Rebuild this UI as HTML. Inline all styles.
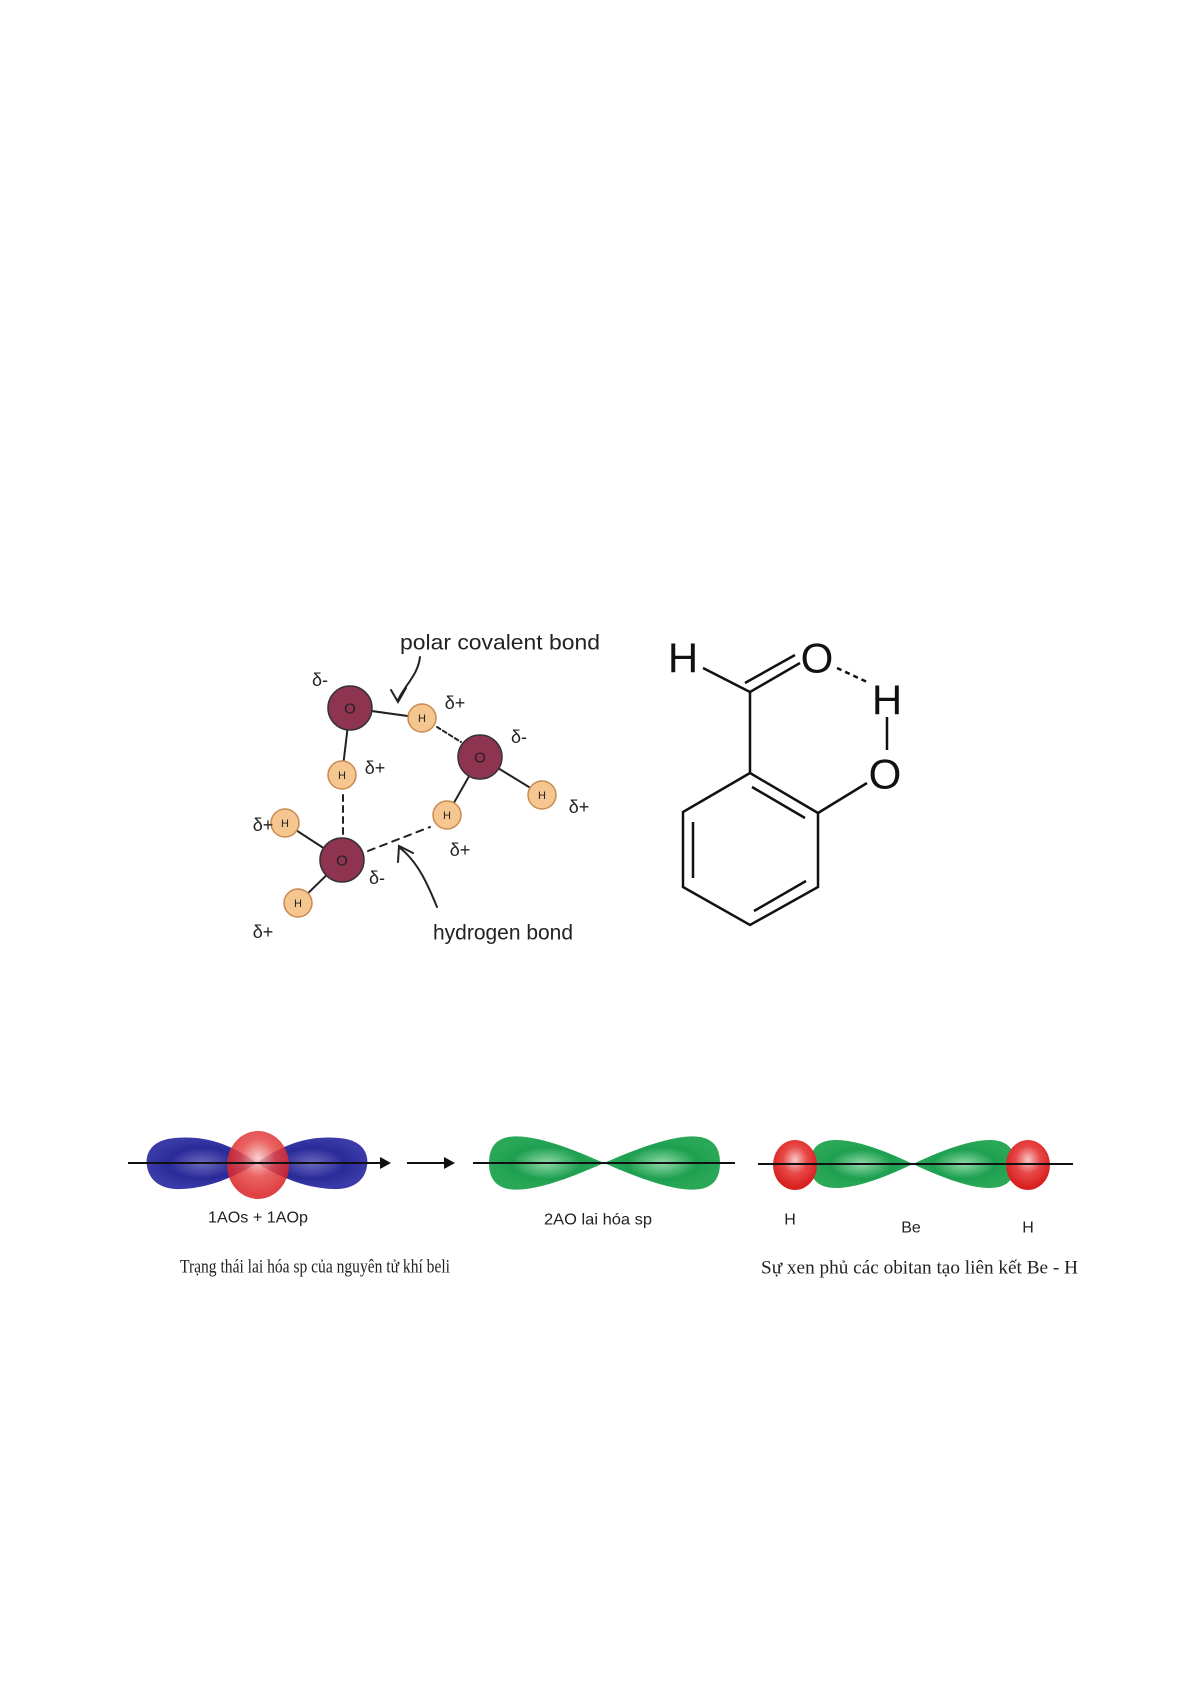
<!DOCTYPE html>
<html><head><meta charset="utf-8"><style>
html,body{margin:0;padding:0;background:#fff;}
body{width:1192px;height:1685px;position:relative;overflow:hidden;}
svg{position:absolute;left:0;top:0;}
</style></head><body>
<svg width="1192" height="1685" viewBox="0 0 1192 1685" xmlns="http://www.w3.org/2000/svg">
<defs>
<radialGradient id="bl" cx="50%" cy="50%" r="50%"><stop offset="0" stop-color="#6a6ac0"/><stop offset="0.6" stop-color="#2a2a98"/><stop offset="1" stop-color="#3a3aa8"/></radialGradient>
<radialGradient id="rd" cx="50%" cy="40%" r="55%"><stop offset="0" stop-color="#f7c8c8"/><stop offset="0.5" stop-color="#e84848"/><stop offset="1" stop-color="#d82020"/></radialGradient>
<radialGradient id="gr" cx="50%" cy="50%" r="50%"><stop offset="0" stop-color="#8fd8a8"/><stop offset="0.6" stop-color="#1ea050"/><stop offset="1" stop-color="#2aa858"/></radialGradient>
</defs>

<!-- WATER DIAGRAM -->
<g stroke="#222" stroke-width="2" fill="none" stroke-linecap="round">
<line x1="350" y1="708" x2="422" y2="718"/>
<line x1="350" y1="708" x2="342" y2="775"/>
<line x1="480" y1="757" x2="542" y2="795"/>
<line x1="480" y1="757" x2="447" y2="815"/>
<line x1="342" y1="860" x2="285" y2="823"/>
<line x1="342" y1="860" x2="298" y2="903"/>
<line x1="437" y1="727" x2="461" y2="742" stroke-dasharray="4,3"/>
<line x1="343" y1="795" x2="343" y2="836" stroke-dasharray="6,5"/>
<line x1="368" y1="851" x2="430" y2="827" stroke-dasharray="7,6"/>
<path d="M420 657 C418 675 405 685 398 700"/>
<path d="M391 690 L398 702 L406 688"/>
<path d="M437 907 C428 885 418 862 400 848"/>
<path d="M398 862 L399 846 L413 853"/>
</g>
<g stroke="#333" stroke-width="1.5">
<circle cx="350" cy="708" r="22" fill="#8e3450"/>
<circle cx="480" cy="757" r="22" fill="#8e3450"/>
<circle cx="342" cy="860" r="22" fill="#8e3450"/>
<g fill="#f6c690" stroke="#c88a50">
<circle cx="422" cy="718" r="14"/><circle cx="342" cy="775" r="14"/>
<circle cx="542" cy="795" r="14"/><circle cx="447" cy="815" r="14"/>
<circle cx="285" cy="823" r="14"/><circle cx="298" cy="903" r="14"/>
</g></g>
<g font-family="Liberation Sans, sans-serif" fill="#222" text-anchor="middle" dominant-baseline="central">
<g font-size="15"><text x="350" y="709">O</text><text x="480" y="758">O</text><text x="342" y="861">O</text></g>
<g font-size="11"><text x="422" y="719">H</text><text x="342" y="776">H</text><text x="542" y="796">H</text><text x="447" y="816">H</text><text x="285" y="824">H</text><text x="298" y="904">H</text></g>
<g font-size="18">
<text x="320" y="680">δ-</text><text x="455" y="703">δ+</text><text x="375" y="768">δ+</text>
<text x="519" y="737">δ-</text><text x="579" y="807">δ+</text><text x="263" y="825">δ+</text>
<text x="460" y="850">δ+</text><text x="377" y="878">δ-</text><text x="263" y="932">δ+</text>
</g>
<text x="500" y="643" font-size="21" textLength="200" lengthAdjust="spacingAndGlyphs">polar covalent bond</text>
<text x="503" y="933" font-size="21" textLength="140" lengthAdjust="spacingAndGlyphs">hydrogen bond</text>
</g>

<!-- SALICYLALDEHYDE -->
<g stroke="#111" stroke-width="2.5" fill="none">
<polygon points="750,773 818,813 818,887 750,925 683,887 683,812"/>
<line x1="693" y1="822" x2="693" y2="878"/>
<line x1="752" y1="787" x2="805" y2="818"/>
<line x1="754" y1="911" x2="806" y2="881"/>
<line x1="750" y1="773" x2="750" y2="692"/>
<line x1="703" y1="668" x2="750" y2="692"/>
<line x1="750" y1="692" x2="800" y2="663"/>
<line x1="745" y1="683" x2="795" y2="655"/>
<line x1="837" y1="668" x2="867" y2="682" stroke-dasharray="5,4"/>
<line x1="887" y1="717" x2="887" y2="750"/>
<line x1="818" y1="813" x2="867" y2="783"/>
</g>
<g font-family="Liberation Sans, sans-serif" font-size="42" fill="#111" text-anchor="middle" dominant-baseline="central">
<text x="683" y="658">H</text><text x="817" y="658">O</text><text x="887" y="700">H</text><text x="885" y="774">O</text>
</g>

<!-- ORBITALS -->
<g>
<path d="M257 1163 C225 1140 200 1136 175 1138 C150 1140 145 1155 147 1166 C149 1180 160 1190 182 1189 C205 1188 230 1180 257 1163 Z" fill="url(#bl)"/>
<path d="M257 1163 C289 1140 314 1136 339 1138 C364 1140 369 1155 367 1166 C365 1180 354 1190 332 1189 C309 1188 284 1180 257 1163 Z" fill="url(#bl)"/>
<ellipse cx="258" cy="1165" rx="31" ry="34" fill="url(#rd)" opacity="0.85"/>
<path d="M489 1163 C489 1125 530 1130 604 1163 C530 1196 489 1201 489 1163 Z" fill="url(#gr)"/>
<path d="M720 1163 C720 1125 679 1130 604 1163 C679 1196 720 1201 720 1163 Z" fill="url(#gr)"/>
<path d="M810 1164 C810 1130 850 1134 913 1164 C850 1194 810 1198 810 1164 Z" fill="url(#gr)"/>
<path d="M1015 1164 C1015 1130 976 1134 913 1164 C976 1194 1015 1198 1015 1164 Z" fill="url(#gr)"/>
<ellipse cx="795" cy="1165" rx="22" ry="25" fill="url(#rd)"/>
<ellipse cx="1028" cy="1165" rx="22" ry="25" fill="url(#rd)"/>
</g>
<g stroke="#111" stroke-width="2">
<line x1="128" y1="1163" x2="382" y2="1163"/>
<line x1="407" y1="1163" x2="446" y2="1163"/>
<line x1="473" y1="1163" x2="735" y2="1163"/>
<line x1="758" y1="1164" x2="1073" y2="1164"/>
</g>
<polygon points="380,1157 391,1163 380,1169" fill="#111"/>
<polygon points="444,1157 455,1163 444,1169" fill="#111"/>
<g font-family="Liberation Sans, sans-serif" font-size="16" fill="#222" text-anchor="middle" dominant-baseline="central">
<text x="258" y="1218" textLength="100" lengthAdjust="spacingAndGlyphs">1AOs + 1AOp</text>
<text x="598" y="1220" textLength="108" lengthAdjust="spacingAndGlyphs">2AO lai hóa sp</text>
<text x="790" y="1220">H</text><text x="911" y="1228">Be</text><text x="1028" y="1228">H</text>
</g>
<g font-family="Liberation Serif, serif" font-size="19" fill="#222" dominant-baseline="central">
<text x="180" y="1267" textLength="270" lengthAdjust="spacingAndGlyphs">Trạng thái lai hóa sp của nguyên tử khí beli</text>
<text x="761" y="1268" textLength="317" lengthAdjust="spacingAndGlyphs">Sự xen phủ các obitan tạo liên kết Be - H</text>
</g>
</svg>
</body></html>
